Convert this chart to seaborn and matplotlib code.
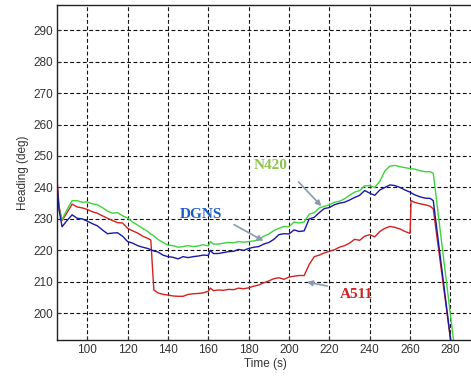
import matplotlib
matplotlib.use("Agg")
import matplotlib.pyplot as plt
import seaborn as sns
import pandas as pd

# ---- data ----
time_s = [85, 86, 87.5, 90, 92.5, 95, 97.5, 100, 102.5, 105, 107.5, 110, 112.5, 115, 117.5,
          120, 122.5, 125, 127.5, 130, 131.5, 133, 135, 137.5, 140, 142.5, 145, 147.5, 150,
          152.5, 155, 157.5, 160, 161, 162.5, 165, 167.5, 170, 172.5, 175, 177.5, 180, 182.5,
          185, 187.5, 190, 192.5, 195, 197.5, 200, 202.5, 205, 207.5, 210, 212.5, 215, 217.5,
          220, 222.5, 225, 227.5, 230, 232.5, 235, 237.5, 240, 242.5, 245, 247.5, 250, 252.5,
          255, 257.5, 260, 260.5, 262.5, 265, 267.5, 270, 271.5]

dgns = [241.5, 233, 227.5, 229.5, 231.3, 230.2, 230, 229.3, 228.5, 227.8, 226.5, 225.3, 225.5,
        225.6, 224.5, 222.8, 222.3, 221.5, 221, 220.6, 220.2, 219.8, 219.5, 218.5, 218, 217.8,
        217.3, 218, 217.7, 218, 218.2, 218.5, 218.4, 220, 219, 219, 219.3, 219.6, 219.7, 220.3,
        220, 220.6, 221, 221.2, 222, 222.5, 223.5, 225, 225.3, 225.2, 226.5, 226, 226.2, 230,
        230.5, 232, 233.3, 233.6, 234.5, 235, 235.3, 236, 236.8, 237.5, 239, 238.2, 237.5, 239.2,
        240, 240.8, 240.6, 240, 239.2, 238.5, 238.3, 237.6, 237, 236.6, 236.5, 235.8]

n420 = [239, 233, 229.8, 233, 235.8, 235.8, 235.3, 235.4, 234.8, 234.5, 233.6, 232.5, 231.8,
        232, 231, 230.3, 229, 228, 227, 226, 225.2, 224.6, 223.5, 222.5, 221.7, 221.5, 221,
        221.2, 221.5, 221.2, 221.4, 221.8, 221.4, 222.8, 222, 222, 222.3, 222.5, 222.4, 222.8,
        222.6, 222.8, 223, 223.3, 224.5, 225.2, 226.3, 227, 227.6, 227.5, 229, 228.7, 229,
        231.5, 232, 233.5, 234, 234.5, 235.3, 235.6, 236.4, 237.5, 238.5, 239, 240.5, 240.6,
        240, 242, 245.2, 246.8, 247, 246.6, 246.3, 246, 246, 245.8, 245.3, 245, 245, 244.5]

a511 = [243, 234, 229.5, 232, 234.7, 233.8, 233.5, 233, 232.3, 231.8, 231, 230.2, 229.5,
        228.8, 228.7, 227, 226.2, 225.5, 224.5, 223.8, 223.3, 207.4, 206.5, 206, 205.8, 205.5,
        205.4, 205.4, 206, 206.2, 206.3, 206.5, 207, 208, 207.2, 207.4, 207.3, 207.6, 207.5,
        208, 207.8, 208.1, 208.6, 209, 209.7, 210.3, 211, 211.3, 210.8, 211.5, 211.8, 212, 212,
        215.5, 218, 218.5, 219.2, 219.7, 220.2, 221, 221.5, 222.3, 223.5, 223.2, 224.5, 225,
        224.3, 226, 227, 227.6, 227.3, 226.8, 226, 225.4, 235.8, 235.2, 234.8, 234.5, 234, 233.2]

# final steep drop (end points of each series)
end_time = {"DGNS": 281, "N420": 282, "A511": 281}
end_val = {"DGNS": 187, "N420": 189, "A511": 187}

series_names = ["A511", "N420", "DGNS"]
series_vals = {"DGNS": dgns, "N420": n420, "A511": a511}
colors = {"DGNS": "#1818a8", "N420": "#3cd43c", "A511": "#d42020"}

rows = []
for name in series_names:
    ts = time_s + [end_time[name]]
    vs = series_vals[name] + [end_val[name]]
    for i, (t, v) in enumerate(zip(ts, vs)):
        rows.append({"Time": t, "Heading": v, "series": name, "order": i})
df = pd.DataFrame(rows)

# ---- plot ----
sns.set_style("white")
plt.rcParams["font.family"] = ["Liberation Sans", "DejaVu Sans"]

fig = plt.figure(figsize=(4.71, 3.76), dpi=100)
ax = fig.add_axes([0.121, 0.0957, 0.885, 0.891])

sns.lineplot(data=df, x="Time", y="Heading", hue="series", palette=colors,
             hue_order=series_names, estimator=None, sort=False, lw=1.0,
             legend=False, ax=ax)

ax.set_xlim(85, 291.6)
ax.set_ylim(191.5, 298)
ax.set_xticks(list(range(100, 281, 20)))
ax.set_yticks(list(range(200, 291, 10)))
ax.grid(True, color="#111111", linestyle=(0, (3.5, 2.2)), linewidth=0.8)
ax.tick_params(direction="in", length=3, labelsize=8.5, labelcolor="#333333",
               colors="#333333", pad=3)
ax.tick_params(axis="both", which="both", bottom=True, left=True)
for sp in ax.spines.values():
    sp.set_color("#222222")
    sp.set_linewidth(1.0)
ax.set_xlabel("Time (s)", fontsize=8.5, color="#333333", labelpad=1)
ax.set_ylabel("Heading (deg)", fontsize=8.5, color="#333333", labelpad=3)

arrow = dict(arrowstyle="-|>", color="#8a9ab0", lw=1.2, mutation_scale=8)
serif = ["Liberation Serif", "DejaVu Serif"]
ax.text(156.4, 231.3, "DGNS", color="#1a5cc8", fontsize=11, fontweight="bold",
        family=serif, ha="center", va="center")
ax.annotate("", xy=(188.5, 222.6), xytext=(171.6, 228.6), arrowprops=arrow)
ax.text(191.1, 247.1, "N420", color="#8cc44c", fontsize=11, fontweight="bold",
        family=serif, ha="center", va="center")
ax.annotate("", xy=(217, 233.4), xytext=(203.8, 242.4), arrowprops=arrow)
ax.text(233.2, 205.9, "A511", color="#d42020", fontsize=11, fontweight="bold",
        family=serif, ha="center", va="center")
ax.annotate("", xy=(207.5, 210.1), xytext=(220.3, 208.5), arrowprops=arrow)

fig.savefig("out.png", dpi=100)
